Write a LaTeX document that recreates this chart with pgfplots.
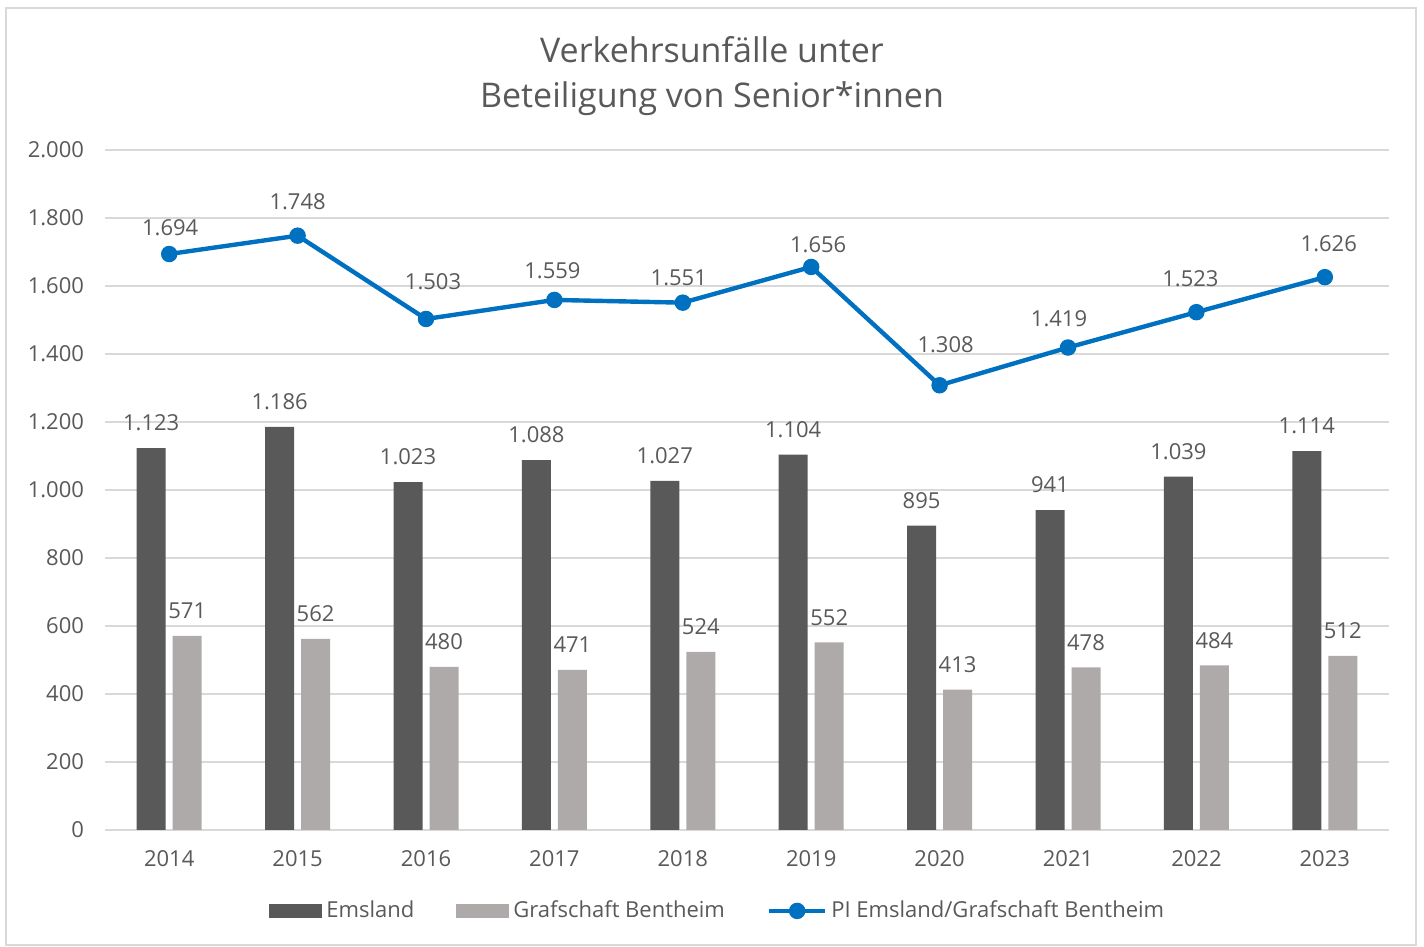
\documentclass[border=0pt]{standalone}
\usepackage{pgfplots}
\pgfplotsset{compat=1.18}
\usepackage{pgfplotstable}
\usepackage{fontspec}
\setmainfont{Open Sans}
\definecolor{txt}{HTML}{595959}
\definecolor{ems}{HTML}{595959}
\definecolor{gra}{HTML}{AEAAAA}
\definecolor{pib}{HTML}{0070C0}
\definecolor{gridc}{HTML}{D9D9D9}

\pgfplotstableread{
x ems gra
0 1123 571
1 1186 562
2 1023 480
3 1088 471
4 1027 524
5 1104 552
6 895 413
7 941 478
8 1039 484
9 1114 512
}\bardata

\pgfplotstableread{
x pi dx dy
0 1694 1 26
1 1748 0 34
2 1503 7 37
3 1559 -2 29
4 1551 -4 25
5 1656 7 22
6 1308 6 41
7 1419 -9 29
8 1523 -6 33
9 1626 4 33
}\pidata

\begin{document}
\begin{tikzpicture}[font=\fontsize{11}{13}\selectfont, text=txt]
\path (-52.5pt,-58.5pt) rectangle (659.5pt,415pt);
\draw[gridc, line width=0.75pt] (-49.5pt,-57.5pt) rectangle (655.5pt,411pt);
\node[align=center, font=\fontsize{17}{22.5}\selectfont, text=txt] at (303.5pt,376.75pt) {Verkehrsunfälle unter\\Beteiligung von Senior*innen};
\begin{axis}[
  scale only axis, width=642pt, height=340pt,
  at={(0pt,0pt)}, anchor=south west,
  xmin=-0.5, xmax=9.5, ymin=0, ymax=2000,
  xtick={0,...,9}, xticklabels={2014,2015,2016,2017,2018,2019,2020,2021,2022,2023},
  ytick={0,200,...,2000},
  scaled y ticks=false,
  ymajorgrids, grid style={gridc, line width=0.75pt},
  axis line style={draw=none},
  major tick length=0pt,
  yticklabel style={xshift=-7pt, text=txt},
  xticklabel style={yshift=-6.5pt, text=txt},
  /pgf/number format/.cd, fixed, precision=0, 1000 sep={.}, assume math mode=true,
  /pgfplots/.cd,
  legend columns=3,
  legend style={draw=none, fill=none, at={(0.478,-0.119)}, anchor=center,
    font=\fontsize{11}{13}\selectfont, text=txt,
    /tikz/every even column/.append style={column sep=19pt}},
  legend cell align=left,
  clip=false,
]
\addplot[ybar, bar width=14.5pt, bar shift=-9pt, fill=ems, draw=none,
  nodes near coords, point meta=y,
  nodes near coords style={text=txt, yshift=5pt, xshift=-9pt},
  legend image code/.code={\fill[ems] (0pt,-3.5pt) rectangle (26.5pt,3.5pt);}]
  table[x=x, y=ems]{\bardata};
\addlegendentry{Emsland}
\addplot[ybar, bar width=14.5pt, bar shift=9pt, fill=gra, draw=none,
  nodes near coords, point meta=y,
  nodes near coords style={text=txt, yshift=5pt, xshift=9pt},
  legend image code/.code={\fill[gra] (0pt,-3.5pt) rectangle (26.5pt,3.5pt);}]
  table[x=x, y=gra]{\bardata};
\addlegendentry{Grafschaft Bentheim}
\addplot[pib, line width=2.2pt, mark=*, mark size=3pt, mark options={fill=pib, draw=pib},
  legend image code/.code={\draw[pib, line width=2.2pt] (0pt,0pt) -- (28pt,0pt); \fill[pib] (14pt,0pt) circle (3pt);}]
  table[x=x, y=pi]{\pidata};
\addlegendentry{PI Emsland/Grafschaft Bentheim}
\addplot[forget plot, draw=none, mark=none,
  nodes near coords, point meta=y,
  visualization depends on={\thisrow{dx} \as \dx},
  visualization depends on={\thisrow{dy} \as \dy},
  nodes near coords style={anchor=center, text=txt, xshift=\dx*0.5pt, yshift=\dy*0.5pt}]
  table[x=x, y=pi]{\pidata};
\end{axis}
\end{tikzpicture}
\end{document}
